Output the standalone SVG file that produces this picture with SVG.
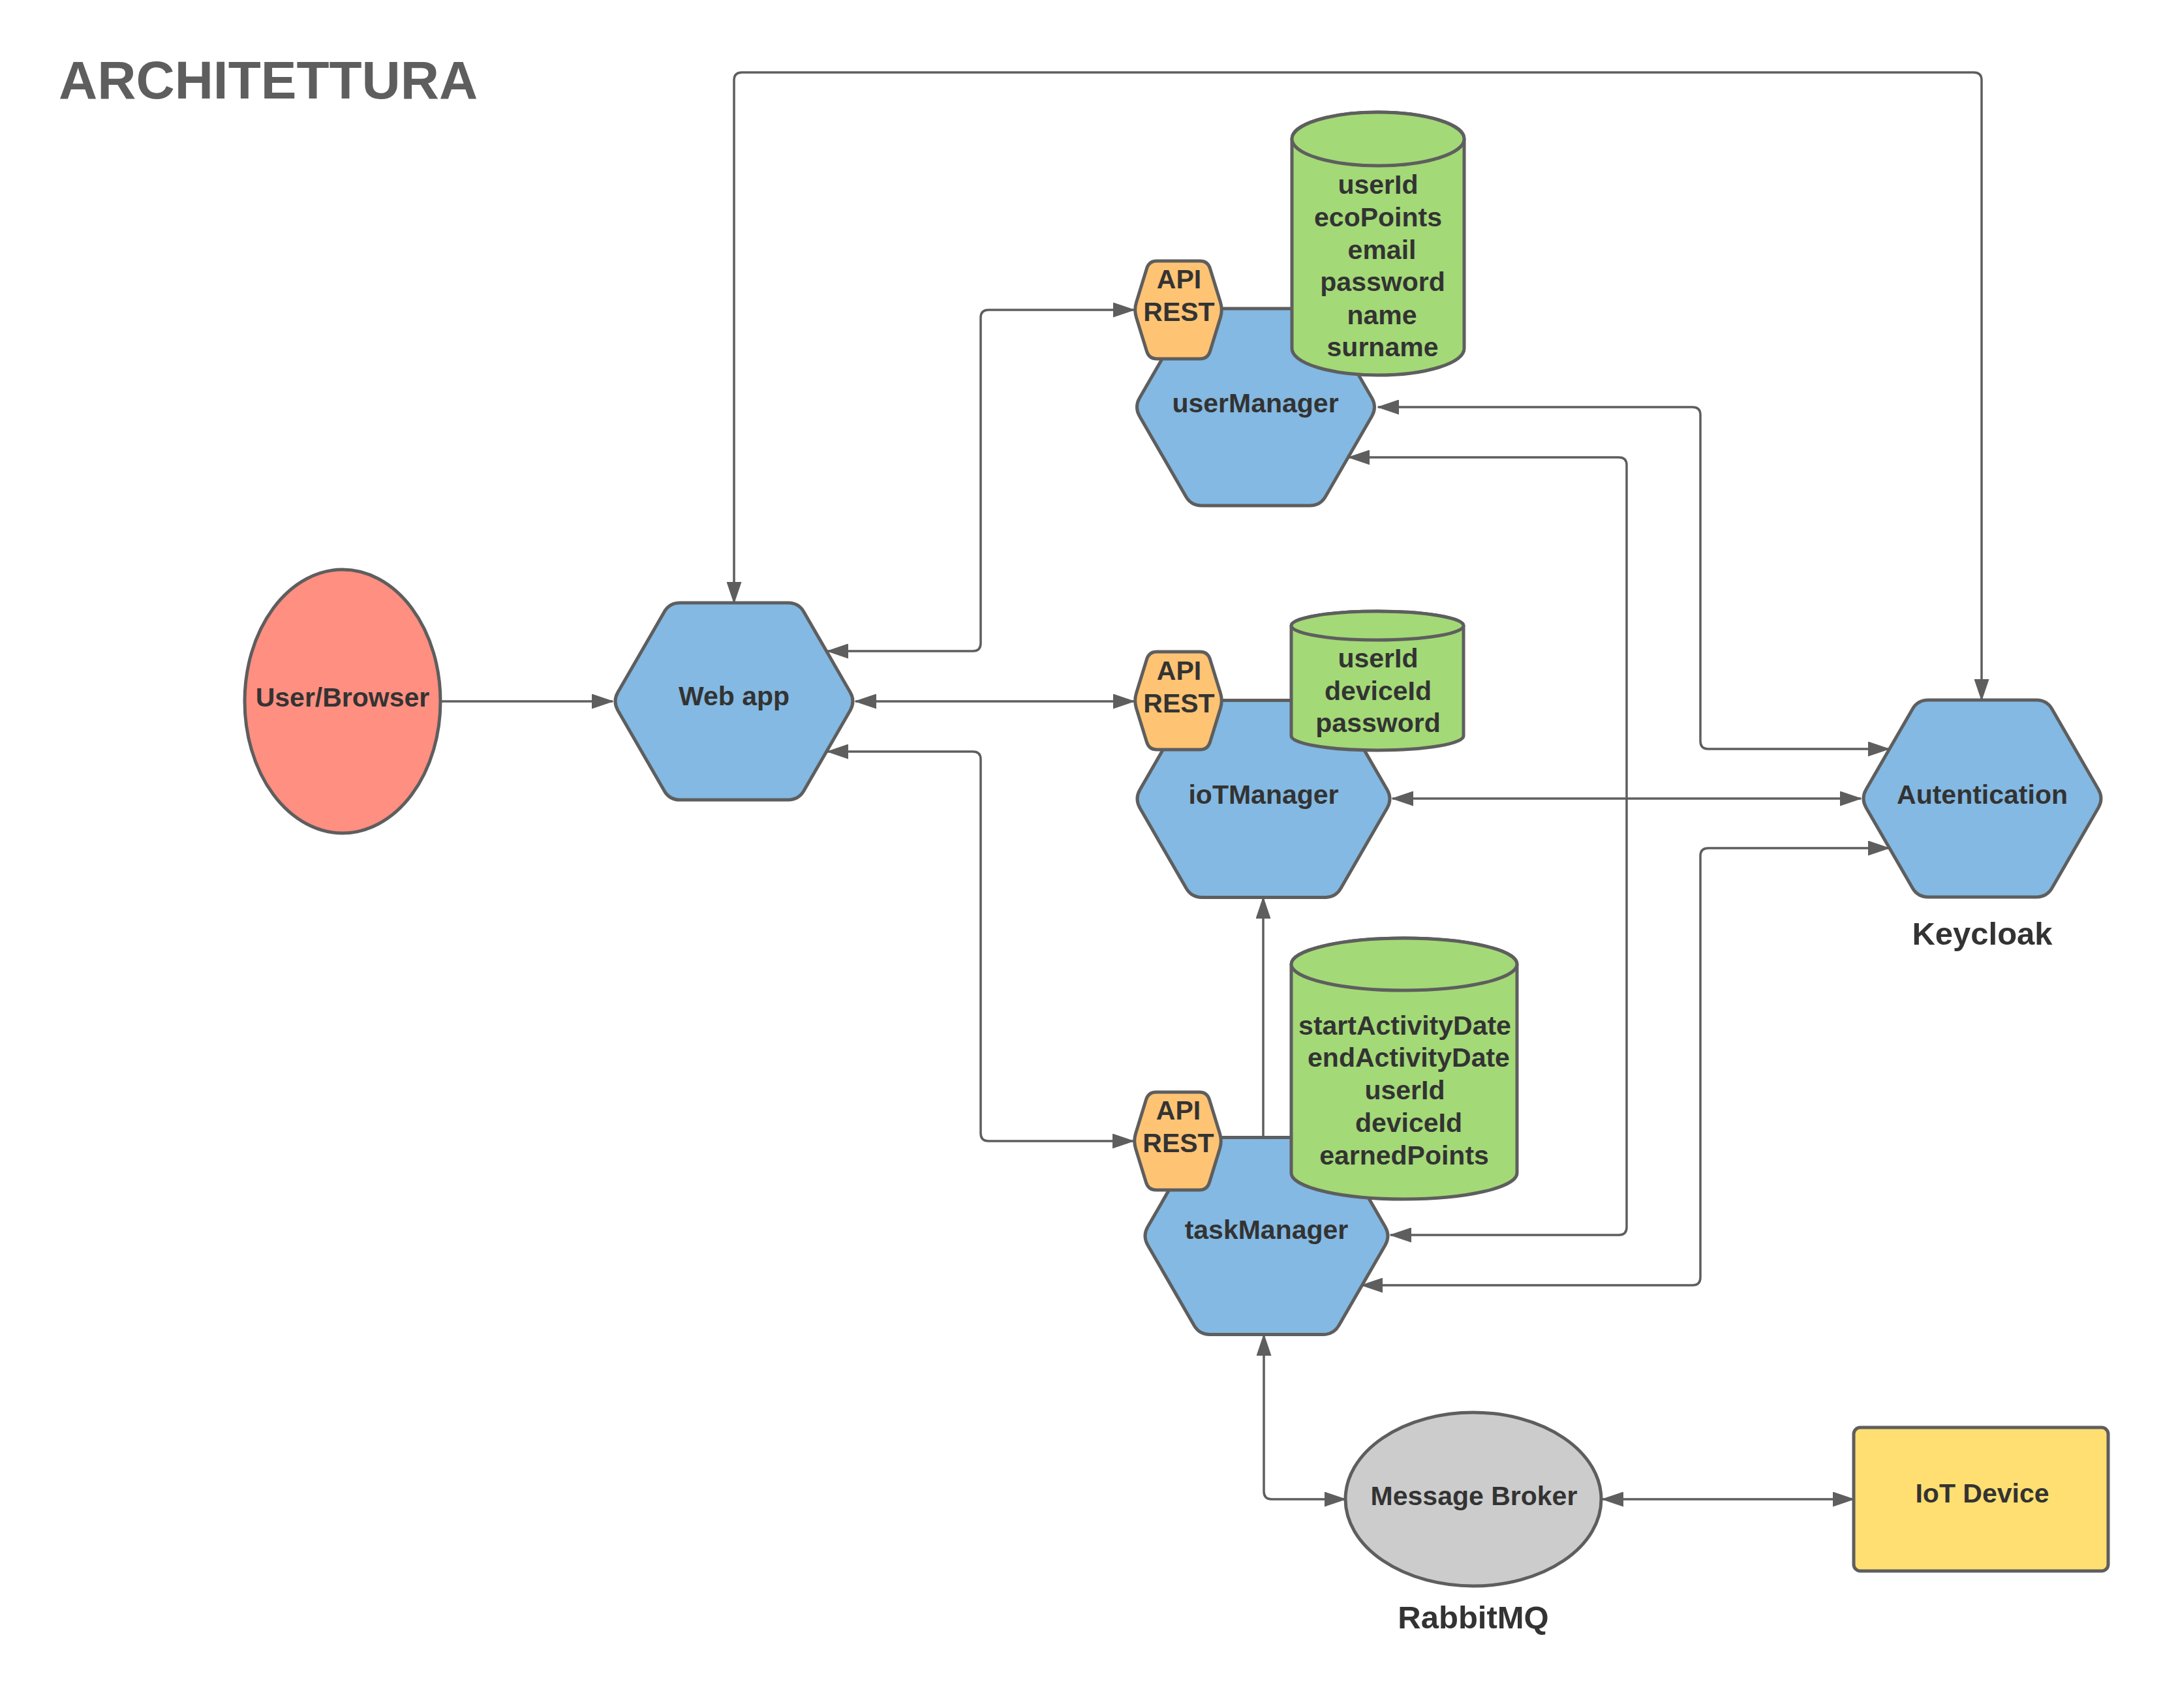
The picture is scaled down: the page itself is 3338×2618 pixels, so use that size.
<svg xmlns="http://www.w3.org/2000/svg" width="3338" height="2618" viewBox="0 0 3338 2618">
  <style>
    .lbl { font-family: "Liberation Sans", Arial, sans-serif; font-weight: bold; font-size: 41px; fill: #333333; text-anchor: middle; }
    .cap { font-family: "Liberation Sans", Arial, sans-serif; font-weight: bold; font-size: 49px; fill: #333333; text-anchor: middle; }
    .title { font-family: "Liberation Sans", Arial, sans-serif; font-weight: bold; font-size: 82px; fill: #5e5e5e; }
    .svc { fill: #83b9e2; stroke: #5e5e5e; stroke-width: 5; stroke-linejoin: round; }
    .api { fill: #ffc374; stroke: #5e5e5e; stroke-width: 5; stroke-linejoin: round; }
    .db { fill: #a3d977; stroke: #5e5e5e; stroke-width: 5; stroke-linejoin: round; }
    .conn { fill: none; stroke: #5e5e5e; stroke-width: 3.5; }
    .both { marker-start: url(#arrow); marker-end: url(#arrow); }
    .end { marker-end: url(#arrow); }
  </style>
  <defs>
    <marker id="arrow" viewBox="0 0 34 23" refX="32" refY="11.5" markerWidth="34" markerHeight="23" markerUnits="userSpaceOnUse" orient="auto-start-reverse">
      <path d="M0,0 L34,11.5 L0,23 Z" fill="#5e5e5e"/>
    </marker>
    <!-- large service hexagon, 372 x 302, centred on origin -->
    <path id="hex372" d="M -178,-13.9 L -107,-137.1 Q -99,-151 -83,-151 L 83,-151 Q 99,-151 107,-137.1 L 178,-13.9 Q 186,0 178,13.9 L 107,137.1 Q 99,151 83,151 L -83,151 Q -99,151 -107,137.1 L -178,13.9 Q -186,0 -178,-13.9 Z"/>
    <!-- small API badge hexagon, 136 x 150 -->
    <path id="hexApi" d="M -64.5,-11.5 L -48.5,-63.5 Q -45,-75 -33,-75 L 33,-75 Q 45,-75 48.5,-63.5 L 64.5,-11.5 Q 68,0 64.5,11.5 L 48.5,63.5 Q 45,75 33,75 L -33,75 Q -45,75 -48.5,63.5 L -64.5,11.5 Q -68,0 -64.5,-11.5 Z"/>
  </defs>

  <rect width="3338" height="2618" fill="#ffffff"/>

  <text class="title" x="90" y="151">ARCHITETTURA</text>

  <!-- User / Browser -->
  <g id="user-browser">
    <ellipse cx="525" cy="1075" rx="150" ry="202" fill="#ff8f80" stroke="#5e5e5e" stroke-width="5"/>
    <text class="lbl" x="525" y="1083">User/Browser</text>
  </g>

  <!-- Web app -->
  <g id="web-app">
    <use href="#hex372" class="svc" transform="translate(1125,1075)"/>
    <text class="lbl" x="1125" y="1081">Web app</text>
  </g>

  <!-- userManager service with its API and database -->
  <g id="user-manager">
    <use href="#hex372" class="svc" transform="translate(1924.5,624)"/>
    <text class="lbl" x="1924" y="632">userManager</text>
  </g>
  <g id="user-manager-api">
    <use href="#hexApi" class="api" transform="translate(1806,475)"/>
    <text class="lbl" x="1807" y="442">API</text>
    <text class="lbl" x="1807" y="492">REST</text>
  </g>
  <g id="user-db">
    <path class="db" d="M 1980,213 L 1980,534 A 132,41 0 0 0 2244,534 L 2244,213 A 132,41 0 0 0 1980,213 Z"/>
    <ellipse class="db" cx="2112" cy="213" rx="132" ry="41"/>
    <text class="lbl" x="2112" y="297">userId</text>
    <text class="lbl" x="2112" y="347">ecoPoints</text>
    <text class="lbl" x="2118" y="397">email</text>
    <text class="lbl" x="2119" y="446">password</text>
    <text class="lbl" x="2118" y="497">name</text>
    <text class="lbl" x="2119" y="546">surname</text>
  </g>

  <!-- ioTManager service -->
  <g id="iot-manager">
    <path class="svc" transform="translate(1936.5,1224.5)" d="M -189.5,-13.9 L -118.5,-137.1 Q -110.5,-151 -94.5,-151 L 94.5,-151 Q 110.5,-151 118.5,-137.1 L 189.5,-13.9 Q 197.5,0 189.5,13.9 L 118.5,137.1 Q 110.5,151 94.5,151 L -94.5,151 Q -110.5,151 -118.5,137.1 L -189.5,13.9 Q -197.5,0 -189.5,-13.9 Z"/>
    <text class="lbl" x="1936.5" y="1232">ioTManager</text>
  </g>
  <g id="iot-manager-api">
    <use href="#hexApi" class="api" transform="translate(1806,1074)"/>
    <text class="lbl" x="1807" y="1042">API</text>
    <text class="lbl" x="1807" y="1092">REST</text>
  </g>
  <g id="iot-db">
    <path class="db" d="M 1979,959 L 1979,1128 A 132,22 0 0 0 2243,1128 L 2243,959 A 132,22 0 0 0 1979,959 Z"/>
    <ellipse class="db" cx="2111" cy="959" rx="132" ry="22"/>
    <text class="lbl" x="2112" y="1023">userId</text>
    <text class="lbl" x="2112" y="1073">deviceId</text>
    <text class="lbl" x="2112" y="1122">password</text>
  </g>

  <!-- taskManager service -->
  <g id="task-manager">
    <path class="svc" transform="translate(1941,1894.5)" d="M -182,-13.9 L -111,-137.1 Q -103,-151 -87,-151 L 87,-151 Q 103,-151 111,-137.1 L 182,-13.9 Q 190,0 182,13.9 L 111,137.1 Q 103,151 87,151 L -87,151 Q -103,151 -111,137.1 L -182,13.9 Q -190,0 -182,-13.9 Z"/>
    <text class="lbl" x="1941" y="1899">taskManager</text>
  </g>
  <g id="task-manager-api">
    <use href="#hexApi" class="api" transform="translate(1805,1749)"/>
    <text class="lbl" x="1806" y="1716">API</text>
    <text class="lbl" x="1806" y="1766">REST</text>
  </g>
  <g id="task-db">
    <path class="db" d="M 1979,1478 L 1979,1798 A 173,40 0 0 0 2325,1798 L 2325,1478 A 173,40 0 0 0 1979,1478 Z"/>
    <ellipse class="db" cx="2152" cy="1478" rx="173" ry="40"/>
    <text class="lbl" x="2153" y="1586">startActivityDate</text>
    <text class="lbl" x="2159" y="1635">endActivityDate</text>
    <text class="lbl" x="2153" y="1685">userId</text>
    <text class="lbl" x="2159" y="1735">deviceId</text>
    <text class="lbl" x="2152" y="1785">earnedPoints</text>
  </g>

  <!-- Keycloak authentication -->
  <g id="autentication">
    <use href="#hex372" class="svc" transform="translate(3038,1224)"/>
    <text class="lbl" x="3038" y="1232">Autentication</text>
    <text class="cap" x="3038" y="1448">Keycloak</text>
  </g>

  <!-- RabbitMQ broker -->
  <g id="message-broker">
    <ellipse cx="2258" cy="2298" rx="196" ry="133" fill="#cccccc" stroke="#5e5e5e" stroke-width="5"/>
    <text class="lbl" x="2259" y="2307">Message Broker</text>
    <text class="cap" x="2258" y="2496">RabbitMQ</text>
  </g>

  <!-- IoT device -->
  <g id="iot-device">
    <rect x="2841" y="2188" width="390" height="220" rx="10" ry="10" fill="#ffdf71" stroke="#5e5e5e" stroke-width="5"/>
    <text class="lbl" x="3038" y="2303">IoT Device</text>
  </g>

  <!-- connectors -->
  <g id="connectors">
    <path class="conn end" d="M 675,1075 L 939,1075"/>
    <path class="conn both" d="M 1125,924 L 1125,123 Q 1125,111 1137,111 L 3025,111 Q 3037,111 3037,123 L 3037,1073"/>
    <path class="conn both" d="M 1268,998 L 1491,998 Q 1503,998 1503,986 L 1503,487 Q 1503,475 1515,475 L 1738,475"/>
    <path class="conn both" d="M 1311,1075 L 1738,1075"/>
    <path class="conn both" d="M 1268,1152 L 1491,1152 Q 1503,1152 1503,1164 L 1503,1737 Q 1503,1749 1515,1749 L 1737,1749"/>
    <path class="conn both" d="M 2112,624 L 2594,624 Q 2606,624 2606,636 L 2606,1136 Q 2606,1148 2618,1148 L 2895,1148"/>
    <path class="conn both" d="M 2067,701 L 2481,701 Q 2493,701 2493,713 L 2493,1881 Q 2493,1893 2481,1893 L 2131,1893"/>
    <path class="conn both" d="M 2134,1224 L 2852,1224"/>
    <path class="conn both" d="M 2087,1970 L 2594,1970 Q 2606,1970 2606,1958 L 2606,1312 Q 2606,1300 2618,1300 L 2895,1300"/>
    <path class="conn end" d="M 1936,1745 L 1936,1376"/>
    <path class="conn both" d="M 1937,2046 L 1937,2286 Q 1937,2298 1949,2298 L 2062,2298"/>
    <path class="conn both" d="M 2456,2298 L 2841,2298"/>
  </g>
</svg>
